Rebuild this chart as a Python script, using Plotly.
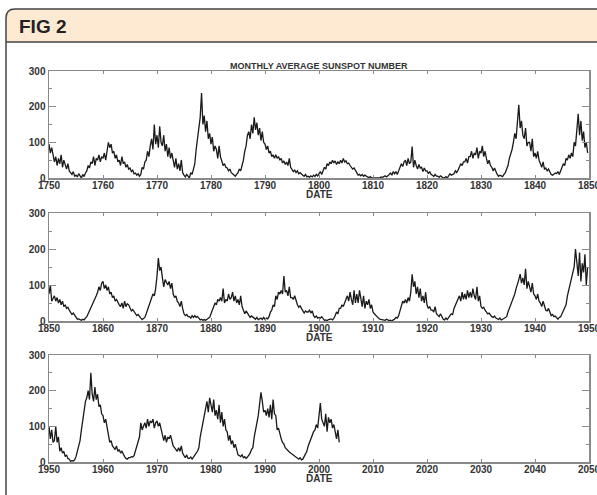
import plotly.graph_objects as go

start_1 = 1750
ssn_1750_1850 = [
    95, 70, 85, 60,   45, 60, 35, 55,   40, 65, 30, 50,   35, 25, 40, 20,   15, 10, 18, 5,
    8, 3, 12, 5,      0, 10, 4, 14,     20, 35, 28, 45,   40, 60, 35, 55,   50, 65, 45, 60,
    55, 70, 50, 75,   100, 85, 95, 70,  75, 55, 65, 45,   50, 35, 60, 40,   45, 30, 38, 25,
    28, 18, 22, 12,   14, 8, 12, 5,     10, 30, 25, 45,   50, 75, 60, 90,   110, 80, 150, 95,
    120, 85, 145, 100, 90, 120, 75, 95, 60, 85, 55, 70,   45, 30, 55, 25,   40, 20, 50, 15,
    8, 3, 10, 5,      0, 15, 10, 25,    40, 80, 110, 140, 170, 238, 150, 175, 130, 160, 110, 125,
    95, 115, 75, 90,  80, 55, 90, 60,   45, 35, 40, 30,   28, 20, 25, 15,   12, 8, 5, 10,
    15, 25, 20, 35,   50, 75, 90, 120,  130, 110, 150, 125, 170, 135, 155, 120, 140, 105, 130, 100,
    95, 80, 90, 70,   75, 60, 65, 55,   65, 55, 60, 50,   55, 42, 48, 38,   45, 35, 55, 30,
    25, 18, 22, 15,   20, 12, 15, 10,   8, 5, 10, 3,      5, 2, 6, 3,       8, 4, 10, 6,
    12, 18, 10, 20,   30, 25, 40, 35,   45, 40, 50, 42,   48, 38, 45, 40,   50, 42, 55, 45,
    48, 40, 42, 35,   30, 25, 28, 20,   12, 8, 10, 6,     10, 5, 8, 4,      3, 1, 4, 0,
    0, 1, 0, 0,       1, 0, 3, 2,       4, 6, 3, 8,       10, 14, 8, 18,    12, 18, 10, 20,
    28, 40, 32, 45,   50, 35, 55, 40,   45, 88, 30, 50,   35, 25, 38, 28,   30, 18, 28, 20,
    20, 12, 18, 10,   8, 4, 10, 5,      5, 2, 6, 3,       0, 1, 4, 0,       5, 12, 8, 10,
    12, 20, 15, 22,   30, 40, 35, 45,   45, 55, 42, 60,   60, 75, 55, 70,   65, 85, 55, 75,
    70, 90, 60, 75,   55, 40, 50, 35,   30, 20, 28, 18,   10, 5, 8, 6,      4, 10, 15, 25,
    35, 55, 65, 80,   100, 125, 110, 150, 205, 140, 160, 120, 110, 140, 90, 100, 100, 75, 110, 60,
    70, 55, 75, 50,   40, 30, 45, 25,   28, 20, 25, 18,   10, 8, 12, 14,    12, 18, 10, 20,
    30, 40, 35, 55,   50, 65, 55, 70,   60, 100, 90, 150, 180, 120, 160, 105, 130, 85, 100, 70,
]

start_2 = 1850
ssn_1850_1950 = [
    75, 100, 55, 65,  70, 55, 65, 50,   60, 45, 55, 40,   45, 35, 38, 30,   25, 18, 22, 15,
    8, 5, 6, 3,       2, 5, 3, 8,       12, 20, 28, 35,   45, 55, 60, 70,   80, 95, 85, 105,
    110, 90, 100, 85, 95, 75, 80, 65,   70, 55, 60, 50,   45, 40, 50, 35,   55, 40, 48, 45,
    35, 28, 32, 25,   20, 15, 18, 12,   8, 4, 6, 10,      20, 30, 40, 50,   60, 75, 70, 90,
    125, 175, 140, 150, 120, 95, 115, 105, 100, 110, 90, 105, 75, 65, 70, 55, 50, 40, 55, 35,
    20, 15, 18, 12,   12, 8, 15, 10,    15, 10, 12, 8,    3, 5, 2, 4,       2, 5, 8, 10,
    20, 30, 40, 50,   45, 60, 55, 65,   55, 90, 50, 60,   55, 75, 60, 65,   80, 55, 70, 50,
    60, 45, 70, 40,   30, 20, 28, 22,   15, 10, 14, 12,   8, 5, 10, 4,      5, 8, 4, 10,
    5, 8, 6, 12,      25, 30, 45, 40,   70, 60, 80, 75,   85, 75, 125, 80,  85, 70, 95, 65,
    65, 60, 70, 55,   45, 38, 42, 35,   30, 22, 28, 25,   25, 30, 22, 28,   15, 10, 14, 8,
    10, 8, 12, 6,     2, 3, 1, 4,       4, 6, 3, 7,       15, 25, 20, 35,   35, 45, 40, 50,
    55, 70, 55, 80,   60, 45, 85, 50,   75, 50, 85, 55,   40, 70, 35, 55,   45, 60, 35, 45,
    25, 20, 15, 10,   8, 5, 4, 3,       4, 2, 5, 3,       1, 2, 0, 3,       5, 10, 8, 15,
    30, 45, 55, 50,   60, 50, 65, 55,   80, 130, 95, 110, 75, 95, 65, 90,   55, 70, 50, 80,
    45, 35, 40, 30,   30, 25, 40, 20,   15, 12, 20, 10,   5, 3, 8, 4,       8, 15, 20, 18,
    35, 45, 50, 60,   70, 55, 80, 60,   75, 60, 85, 65,   80, 65, 90, 70,   60, 95, 55, 70,
    40, 35, 38, 30,   25, 20, 22, 15,   12, 10, 14, 8,    6, 4, 8, 3,       5, 8, 10, 12,
    25, 35, 40, 50,   60, 75, 90, 100,  115, 130, 105, 120, 100, 145, 90, 110, 95, 80, 105, 75,
    70, 60, 75, 55,   50, 40, 55, 38,   30, 28, 35, 25,   15, 18, 12, 14,   8, 5, 10, 12,
    20, 30, 40, 45,   70, 85, 100, 115, 130, 150, 200, 165, 125, 190, 110, 160, 135, 185, 100, 150,
]

start_3 = 1950
ssn_1950_2004 = [
    100, 65, 90, 55,  60, 100, 55, 70,  30, 40, 25, 30,   15, 20, 10, 8,    2, 4, 3, 6,
    15, 30, 40, 60,   90, 120, 140, 170, 180, 200, 175, 250, 190, 170, 210, 175, 190, 155, 160, 135,
    130, 110, 120, 95, 70, 55, 60, 45,  40, 35, 45, 30,   35, 25, 30, 20,   15, 10, 8, 12,
    12, 15, 14, 18,   30, 45, 55, 70,   110, 90, 100, 110, 95, 120, 100, 115, 110, 120, 95, 110,
    115, 100, 110, 90, 70, 60, 75, 55,  70, 65, 75, 60,   45, 40, 35, 30,   40, 30, 45, 25,
    18, 12, 20, 10,   10, 14, 8, 15,    20, 25, 30, 40,   70, 90, 100, 130, 150, 170, 140, 180,
    160, 140, 175, 130, 145, 120, 160, 110, 140, 100, 120, 90, 85, 60, 75, 50, 60, 40, 50, 30,
    20, 18, 15, 20,   12, 15, 10, 14,   20, 25, 35, 40,   70, 95, 110, 130, 160, 195, 170, 140,
    145, 130, 150, 125, 160, 120, 175, 135, 130, 90, 95, 75, 65, 55, 50, 40, 35, 30, 28, 25,
    22, 18, 15, 12,   10, 8, 12, 6,     8, 15, 25, 30,    45, 55, 70, 80,   85, 90, 105, 95,
    130, 165, 120, 110, 100, 135, 85, 125, 110, 120, 95, 105, 80, 65, 90, 55,
]

panels = [
    (start_1, ssn_1750_1850, [1750, 1850]),
    (start_2, ssn_1850_1950, [1850, 1950]),
    (start_3, ssn_1950_2004, [1950, 2050]),
]
y_ticks = [0, 100, 200, 300]
x_title = "DATE"
chart_title = "MONTHLY AVERAGE SUNSPOT NUMBER"
fig_label = "FIG 2"

W, H = 597, 495


def px(x):
    return x / W


def py(y):
    return 1 - y / H


# plot area pixel boxes (left, right, top, bottom)
x_left, x_right = 49, 589
boxes = [(71, 178), (213, 321), (355, 462)]

fig = go.Figure()
axis_col = "#8a8a8a"
narrow = "Liberation Sans Narrow, Arial Narrow, sans-serif"
tick_font = dict(family=narrow, size=10, color="#333333", weight="bold")

for i, ((start, vals, xr), (top, bot)) in enumerate(zip(panels, boxes)):
    n = i + 1
    xs = [start + k / 4 for k in range(len(vals))]
    fig.add_trace(go.Scatter(x=xs, y=vals, mode="lines",
                             line=dict(color="#1a1a1a", width=1.3),
                             xaxis=f"x{n}" if n > 1 else "x",
                             yaxis=f"y{n}" if n > 1 else "y",
                             showlegend=False, hoverinfo="skip"))
    xa = dict(domain=[px(x_left), px(x_right)], range=xr, dtick=10, tick0=xr[0],
              ticks="inside", ticklen=3, tickwidth=1, tickcolor=axis_col,
              showline=True, linecolor=axis_col, linewidth=1.5, mirror="allticks",
              showgrid=False, zeroline=False, tickfont=tick_font, tickangle=0,
              ticklabelstandoff=-3, ticklabeloverflow="allow", automargin=False,
              anchor=f"y{n}" if n > 1 else "y", fixedrange=True)
    ya = dict(domain=[py(bot), py(top)], range=[0, 300], tickvals=y_ticks,
              ticks="inside", ticklen=7, tickwidth=1, tickcolor=axis_col,
              minor=dict(dtick=50, tick0=0, ticks="inside", ticklen=3, tickcolor=axis_col),
              showline=True, linecolor=axis_col, linewidth=1.5, mirror="allticks",
              showgrid=False, zeroline=False, tickfont=tick_font, automargin=False,
              anchor=f"x{n}" if n > 1 else "x", fixedrange=True)
    fig.layout[f"xaxis{n}" if n > 1 else "xaxis"] = xa
    fig.layout[f"yaxis{n}" if n > 1 else "yaxis"] = ya
    fig.add_annotation(text=x_title, xref="paper", yref="paper",
                       x=px((x_left + x_right) / 2), y=py(bot + 16), yanchor="middle",
                       showarrow=False,
                       font=dict(family=narrow, size=10, color="#333333", weight="bold"))

fig.add_annotation(text=chart_title, xref="paper", yref="paper",
                   x=px((x_left + x_right) / 2), y=py(66), yanchor="middle",
                   showarrow=False,
                   font=dict(family="Liberation Sans, Arial, sans-serif", size=9,
                             color="#333333", weight="bold"))

# header band and frame
r = 9
x0, y0, yb = 6, 9, 42
xe = 610
fig.add_shape(type="path", xref="paper", yref="paper",
              path=(f"M {px(x0)},{py(yb)} L {px(x0)},{py(y0 + r)} "
                    f"Q {px(x0)},{py(y0)} {px(x0 + r)},{py(y0)} "
                    f"L {px(xe)},{py(y0)} L {px(xe)},{py(yb)} Z"),
              fillcolor="#feead2", line=dict(width=0), layer="below")
fig.add_shape(type="path", xref="paper", yref="paper",
              path=(f"M {px(x0)},{py(510)} L {px(x0)},{py(y0 + r)} "
                    f"Q {px(x0)},{py(y0)} {px(x0 + r)},{py(y0)} L {px(xe)},{py(y0)}"),
              line=dict(color="#444444", width=1.5))
fig.add_shape(type="line", xref="paper", yref="paper",
              x0=px(x0), x1=px(xe), y0=py(yb), y1=py(yb),
              line=dict(color="#444444", width=1.5))
fig.add_annotation(text=fig_label, xref="paper", yref="paper",
                   x=px(17), y=py(26), xanchor="left", yanchor="middle",
                   showarrow=False,
                   font=dict(family=narrow, size=19, color="#222222", weight="bold"))

fig.update_layout(width=W, height=H, margin=dict(l=0, r=0, t=0, b=0, autoexpand=False),
                  paper_bgcolor="white", plot_bgcolor="white")

fig.write_html("out.html", config={"displayModeBar": False, "staticPlot": True},
               post_script="document.body.style.margin='0';document.body.style.overflow='hidden';")
